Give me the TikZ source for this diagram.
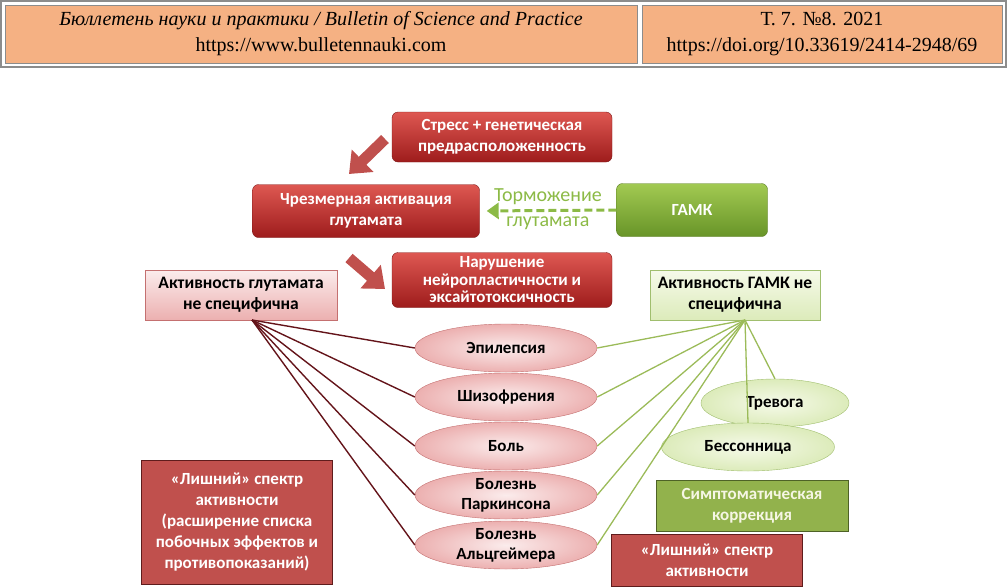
\documentclass[tikz,border=0pt]{standalone}
\usepackage{fontspec}
\setmainfont{Carlito}
\newfontfamily\journalfont{Liberation Serif}
\usetikzlibrary{shapes.geometric,arrows.meta}

\definecolor{HeaderPeach}{RGB}{245,177,131}
\definecolor{HeaderFrame}{RGB}{140,140,140}
\definecolor{CauseTop}{RGB}{222,88,82}
\definecolor{CauseBottom}{RGB}{158,28,28}
\definecolor{CauseLine}{RGB}{125,25,25}
\definecolor{GabaTop}{RGB}{162,202,82}
\definecolor{GabaBottom}{RGB}{104,148,40}
\definecolor{GabaLine}{RGB}{88,122,34}
\definecolor{InhibitGreen}{RGB}{140,186,70}
\definecolor{PinkTop}{RGB}{251,236,236}
\definecolor{PinkBottom}{RGB}{236,176,176}
\definecolor{PinkLine}{RGB}{196,112,112}
\definecolor{MintTop}{RGB}{246,250,234}
\definecolor{MintBottom}{RGB}{220,235,186}
\definecolor{MintLine}{RGB}{160,190,110}
\definecolor{WireRed}{RGB}{100,20,26}
\definecolor{WireGreen}{RGB}{155,187,89}
\definecolor{FlatRed}{RGB}{192,80,77}
\definecolor{FlatRedLine}{RGB}{95,28,28}
\definecolor{FlatGreen}{RGB}{146,178,76}
\definecolor{FlatGreenLine}{RGB}{78,98,38}
\definecolor{PaleText}{RGB}{246,246,228}

\tikzset{
  hdrcell/.style={draw=HeaderFrame, fill=HeaderPeach, minimum height=58pt, align=center,
    font=\journalfont\fontsize{20}{26}\selectfont, inner sep=0pt},
  causebox/.style={draw=CauseLine, rounded corners=6pt, top color=CauseTop, bottom color=CauseBottom,
    text=white, align=center, font=\bfseries\fontsize{17}{21}\selectfont, inner sep=2pt},
  gababox/.style={causebox, draw=GabaLine, top color=GabaTop, bottom color=GabaBottom},
  specbox/.style={draw=PinkLine, top color=PinkTop, bottom color=PinkBottom, align=center,
    font=\bfseries\fontsize{17.5}{21}\selectfont, inner sep=2pt},
  mintbox/.style={specbox, draw=MintLine, top color=MintTop, bottom color=MintBottom},
  disease/.style={ellipse, draw=PinkLine, inner color=PinkTop, outer color=PinkBottom,
    minimum width=182pt, minimum height=48pt, inner sep=0pt,
    label={[align=center, font=\bfseries\fontsize{17}{20}\selectfont]center:#1}},
  symptom/.style={disease=#1, draw=MintLine, inner color=MintTop, outer color=MintBottom},
  flatbox/.style={draw=FlatRedLine, fill=FlatRed, text=white, align=center, line width=1pt,
    font=\bfseries\fontsize{17}{21}\selectfont, inner sep=2pt},
  fatarrow/.style={draw=FlatRed, line width=11pt, -{Triangle[length=19pt,width=30pt]}},
  inhibit/.style={draw=InhibitGreen, line width=3pt, dash pattern=on 8pt off 4pt,
    -{Triangle[length=12pt,width=16pt]}, shorten >=7pt},
  wire/.style={draw=WireRed, line width=1.4pt},
  gwire/.style={draw=WireGreen, line width=1.3pt}
}

\begin{document}
\begin{tikzpicture}[x=1pt, y=1pt]
  \useasboundingbox (0,0) rectangle (1007,-587);
  % journal header
  \draw[HeaderFrame, line width=2pt] (1,-1) rectangle (1006,-67);
  \node[hdrcell, minimum width=632pt] (JournalCell) at (321,-34)
    {\itshape Бюллетень науки и практики / Bulletin of Science and Practice\\https://www.bulletennauki.com};
  \node[hdrcell, minimum width=360pt] (IssueCell) at (822,-34)
    {Т. 7. №8. 2021\\https://doi.org/10.33619/2414-2948/69};

  % glutamate chain
  \node[causebox, minimum width=220pt, minimum height=50pt] (Stress) at (502,-137) {Стресс + генетическая\\предрасположенность};
  \node[causebox, minimum width=227pt, minimum height=53pt] (Excess) at (366,-211) {Чрезмерная активация\\глутамата};
  \node[gababox, minimum width=151pt, minimum height=53pt] (Gaba) at (692,-210) {ГАМК};
  \node[causebox, minimum width=220pt, minimum height=55pt, font=\bfseries\fontsize{17}{17.5}\selectfont] (Disrupt) at (502,-280)
    {Нарушение\\нейропластичности и\\эксайтотоксичность};
  \coordinate (StressTail) at (385,-139);
  \coordinate (StressTip) at (349,-174);
  \coordinate (DisruptTail) at (349,-258);
  \coordinate (DisruptTip) at (385,-289);
  \draw[fatarrow] (StressTail) -- (StressTip);
  \draw[fatarrow] (DisruptTail) -- (DisruptTip);
  \draw[inhibit] (Gaba.west) -- (Excess.east)
    node[midway, above=1pt, text=InhibitGreen, font=\fontsize{20}{20}\selectfont] {Торможение}
    node[midway, below=1pt, text=InhibitGreen, font=\fontsize{20}{20}\selectfont] {глутамата};

  % specificity
  \node[specbox, minimum width=192pt, minimum height=50pt] (GlutBox) at (241,-295) {Активность глутамата\\не специфична};
  \node[mintbox, minimum width=170pt, minimum height=50pt] (GabaBox) at (735,-295) {Активность ГАМК не\\специфична};
  \coordinate (GlutHub) at (252,-320);
  \coordinate (GabaHub) at (745,-320);

  \node[disease={Эпилепсия}] (Epilepsy) at (506,-348) {};
  \node[disease={Шизофрения}] (Schizo) at (506,-397) {};
  \node[disease={Боль}] (Pain) at (506,-446) {};
  \node[disease={Болезнь\\Паркинсона}] (Parkinson) at (506,-495) {};
  \node[disease={Болезнь\\Альцгеймера}] (Alzheimer) at (506,-545) {};
  \node[symptom={Тревога}, minimum width=148pt] (Anxiety) at (775,-403) {};
  \node[symptom={Бессонница}, minimum width=173pt] (Insomnia) at (748,-447) {};

  \foreach \d in {Epilepsy,Schizo,Pain,Parkinson,Alzheimer}{
    \draw[wire] (GlutHub) -- (\d.west);
    \draw[gwire] (GabaHub) -- (\d.east);
  }
  \draw[gwire] (GabaHub) -- (Anxiety.north);
  \draw[gwire] (GabaHub) -- (Insomnia.north);

  % side effects
  \node[flatbox, minimum width=191pt, minimum height=124pt] (SideLeft) at (237,-522)
    {«Лишний» спектр\\активности\\(расширение списка\\побочных эффектов и\\противопоказаний)};
  \node[flatbox, draw=FlatGreenLine, fill=FlatGreen, text=PaleText, minimum width=192pt, minimum height=51pt] (Symptomatic) at (752,-506)
    {Симптоматическая\\коррекция};
  \node[flatbox, minimum width=191pt, minimum height=52pt] (SideRight) at (707,-560) {«Лишний» спектр\\активности};
\end{tikzpicture}
\end{document}
